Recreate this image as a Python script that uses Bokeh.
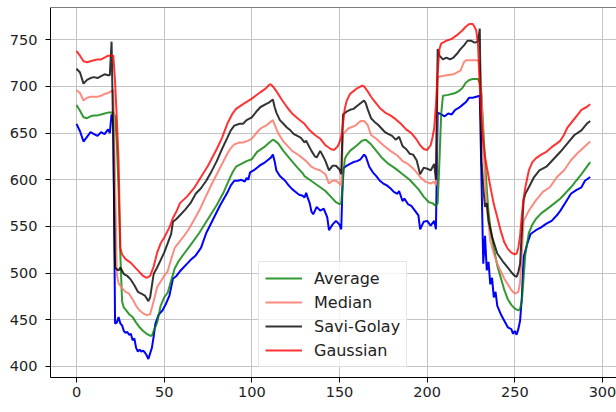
from bokeh.plotting import figure
from bokeh.models import Range1d, FixedTicker, Legend, LegendItem, Span
from bokeh.embed import file_html
from bokeh.resources import INLINE

# ---- data ----
raw_x = [0,2,4,6,8,10,12,14,16,18,19,20,21,22,23,24,25,26,27,28,29,30,31,32,33,34,35,36,37,38,39,40,41,42,43,44,45,47,49,51,53,55,57,59,61,63,65,68,71,74,78,82,86,88,90,92,94,96,97,98,99,101,103,105,107,109,111,112,113,114,116,119,121,123,125,127,129,130,131,132,133,134,135,137,139,141,143,144,146,148,150,151,152,154,156,158,160,162,164,165,167,169,171,173,175,177,179,181,183,184,186,187,189,191,193,195,196,198,200,202,204,205,206,208,210,212,214,216,218,220,222,224,226,228,230,231,232,233,234,235,236,237,238,239,240,242,244,246,248,249,250,251,252,253,254,255,257,259,262,265,268,271,274,276,279,282,285,288,290,293]
raw_y = [660,652,641,646,651,649,647,651,649,654,650,670,662,446,447,453,446,444,438,436,437,434,435,428,430,420,416,418,416,417,415,412,408,414,420,432,446,456,460,467,476,494,497,502,506,510,514,519,527,543,558,573,586,594,599,599,600,598,602,600,608,610,613,616,618,621,624,627,620,610,604,599,594,590,587,584,583,581,586,580,575,566,563,571,567,569,560,546,552,556,552,547,612,615,617,619,620,622,627,625,614,608,604,599,596,594,591,587,585,588,577,580,574,572,567,562,547,555,556,551,556,547,672,670,668,671,670,675,677,680,683,688,688,689,690,600,510,540,503,512,488,495,474,480,465,456,449,442,440,435,438,434,440,449,474,517,531,542,546,549,553,556,562,567,576,585,589,592,599,603]

avg_x = [0,2,4,6,8,10,12,14,16,18,21,22,23,24,25,26,27,28,30,32,34,36,38,40,42,43,44,46,48,50,52,54,56,58,61,65,70,75,80,84,87,89,91,94,97,100,103,107,110,112,113,115,118,122,126,129,130,133,136,139,142,145,148,150,151,152,153,154,156,160,163,165,168,171,174,178,182,186,190,192,195,198,201,203,205,206,207,208,209,212,214,216,218,220,222,224,226,229,230,231,232,233,234,235,236,238,240,242,244,246,248,250,252,253,254,255,256,258,260,262,265,270,276,282,288,293]
avg_y = [680,674,667,666,668,669,669,670,671,672,672,668,640,590,520,470,463,461,456,453,447,442,438,435,433,433,438,447,465,474,479,492,505,512,520,530,543,558,573,587,600,608,614,617,620,622,630,635,640,643,642,639,631,622,613,607,604,600,596,592,588,582,576,574,575,600,622,626,631,637,642,643,638,631,624,617,612,606,600,596,590,582,576,575,572,575,620,670,690,691,692,693,695,698,704,707,708,708,704,690,655,620,590,565,550,527,508,495,482,472,466,462,460,462,470,495,520,543,552,558,564,571,580,592,606,619]

med_x = [0,2,4,6,8,10,12,14,16,18,20,21,22,23,24,26,28,30,32,34,36,38,40,42,44,46,48,50,52,54,56,58,61,64,67,70,74,77,80,83,86,88,90,93,95,98,100,103,105,108,110,112,113,115,118,121,123,127,131,134,136,139,142,144,146,148,150,151,152,155,159,162,164,166,168,171,175,179,183,186,189,192,194,196,199,202,204,205,206,208,211,215,219,221,222,226,229,230,231,232,233,234,236,238,240,242,244,246,248,250,252,253,254,255,258,262,266,270,274,278,282,286,290,293]
med_y = [696,693,685,688,689,689,689,690,692,693,695,696,600,499,489,484,480,478,472,465,460,457,455,456,470,485,491,497,502,515,527,532,539,547,557,567,583,595,606,617,628,634,638,640,640,642,644,651,655,658,661,664,659,650,641,635,631,626,620,614,612,610,606,596,599,599,596,594,649,655,658,663,663,659,648,644,637,631,626,620,617,612,608,603,598,596,598,594,710,711,712,713,717,726,728,728,728,725,690,640,600,572,535,521,510,502,494,488,482,478,480,490,520,556,567,578,587,592,603,610,621,629,636,641]

sg_x = [0,2,4,6,8,10,12,14,16,18,19,20,21,22,23,24,25,27,29,31,33,35,37,39,41,42,44,46,48,50,52,54,55,57,59,62,65,68,71,74,77,80,83,86,88,90,93,95,97,100,103,105,108,110,112,113,114,116,118,120,122,124,126,128,130,131,132,134,136,137,139,141,142,144,146,148,150,151,152,154,156,158,160,162,164,165,166,168,170,172,174,176,178,180,182,184,186,188,190,192,194,196,198,200,202,204,205,206,207,209,211,213,215,217,219,221,223,225,227,229,230,231,232,233,234,235,237,240,243,246,248,250,251,252,253,254,255,256,258,261,264,268,272,276,280,284,288,291,293]
sg_y = [719,715,703,707,709,710,709,711,713,712,712,748,640,506,504,503,506,499,497,493,487,480,478,476,470,474,499,506,514,522,532,542,555,558,562,568,575,585,591,599,609,620,633,645,653,658,660,660,664,667,674,678,681,683,686,678,672,664,660,656,653,649,647,645,640,642,638,631,625,624,631,624,620,610,615,615,611,606,670,673,675,676,679,682,685,682,676,666,662,659,655,651,649,647,643,646,636,633,628,627,621,606,613,612,610,617,600,740,733,729,731,729,731,735,740,744,749,749,747,748,762,620,592,571,575,556,539,521,513,506,501,497,496,501,510,545,578,585,592,603,610,614,622,630,639,648,653,660,663]

gau_x = [0,2,4,6,8,10,12,14,16,18,20,21,22,23,24,25,26,28,31,35,38,40,42,44,46,48,50,53,55,57,59,63,67,71,75,80,83,86,89,91,95,100,105,108,110,111,112,114,117,120,123,126,130,133,136,139,142,145,147,149,150,151,152,153,154,156,158,160,163,164,166,168,170,173,176,179,182,185,188,191,194,196,198,200,202,203,204,205,206,207,208,211,214,217,220,222,224,226,227,228,229,230,231,232,233,234,236,238,240,242,244,246,248,250,251,252,253,254,255,256,258,260,262,265,268,271,274,276,278,280,283,286,288,291,293]
gau_y = [738,733,727,726,727,728,729,729,731,733,733,733,705,665,620,527,520,515,511,503,497,495,497,507,522,532,538,549,559,566,575,582,591,603,615,633,645,660,671,676,681,687,694,698,702,702,700,695,686,678,671,666,660,653,648,644,637,633,632,636,640,646,660,676,684,692,695,698,701,700,695,689,684,677,672,669,665,660,654,650,643,637,633,632,637,645,655,680,715,740,746,749,751,755,760,764,767,767,764,760,745,700,665,640,625,614,593,574,560,545,533,526,522,520,521,527,540,562,580,592,610,619,623,627,630,635,639,642,648,656,663,670,675,678,681]

x_ticks = [0, 50, 100, 150, 200, 250, 300]
y_ticks = [400, 450, 500, 550, 600, 650, 700, 750]
labels = ["Average", "Median", "Savi-Golay", "Gaussian"]

x_lo, x_hi = -14.83, 307.99
y_lo, y_hi = 388.2, 784.6

p = figure(width=616, height=410, output_backend="svg", toolbar_location=None,
           x_range=Range1d(x_lo, x_hi), y_range=Range1d(y_lo, y_hi),
           min_border_left=50, min_border_right=0, min_border_top=7, min_border_bottom=33)
p.outline_line_color = None
p.background_fill_color = "white"

for ax in (p.xaxis[0], p.yaxis[0]):
    ax.axis_line_color = "black"
    ax.axis_line_width = 1
    ax.major_tick_line_color = "black"
    ax.major_tick_out = 5
    ax.major_tick_in = 0
    ax.minor_tick_line_color = None
    ax.major_label_text_font = "DejaVu Sans"
    ax.major_label_text_font_size = "14.5px"
    ax.major_label_text_color = "#222222"
p.xaxis[0].ticker = FixedTicker(ticks=x_ticks)
p.yaxis[0].ticker = FixedTicker(ticks=y_ticks)
p.xaxis[0].major_label_standoff = 4
p.yaxis[0].major_label_standoff = 8

p.xgrid[0].ticker = FixedTicker(ticks=x_ticks)
p.ygrid[0].ticker = FixedTicker(ticks=y_ticks)
p.grid.grid_line_color = "#c4c4c4"
p.grid.grid_line_width = 1

top_spine = Span(location=y_hi, dimension="width", line_color="black", line_width=1)
p.add_layout(top_spine)

p.line(raw_x, raw_y, line_color="blue", line_width=2)
r1 = p.line(avg_x, avg_y, line_color="green", line_alpha=0.8, line_width=2)
r2 = p.line(med_x, med_y, line_color="salmon", line_alpha=0.9, line_width=2)
r3 = p.line(sg_x, sg_y, line_color="black", line_alpha=0.8, line_width=2)
r4 = p.line(gau_x, gau_y, line_color="red", line_alpha=0.8, line_width=2)

legend = Legend(items=[LegendItem(label=labels[0], renderers=[r1]),
                       LegendItem(label=labels[1], renderers=[r2]),
                       LegendItem(label=labels[2], renderers=[r3]),
                       LegendItem(label=labels[3], renderers=[r4])],
                location=(208, 10))
legend.margin = 0
legend.padding = 6
legend.spacing = 4
legend.glyph_width = 37
legend.glyph_height = 20
legend.label_height = 20
legend.label_standoff = 12
legend.label_text_font = "DejaVu Sans"
legend.label_text_font_size = "16px"
legend.label_text_color = "#222222"
legend.border_line_color = "#cccccc"
legend.border_line_width = 1
legend.background_fill_color = "white"
legend.background_fill_alpha = 0.8
p.add_layout(legend)

open("out.html", "w").write(file_html(p, INLINE))
